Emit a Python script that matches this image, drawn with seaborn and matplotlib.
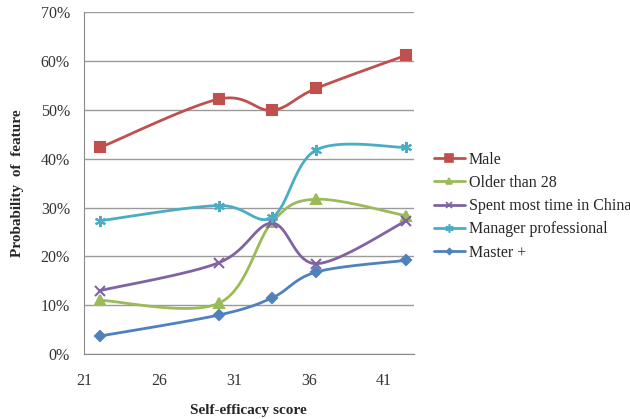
import numpy as np
import pandas as pd
import seaborn as sns
import matplotlib.pyplot as plt
from matplotlib.ticker import PercentFormatter

sns.set_style("white")
plt.rcParams["font.family"] = ["Liberation Serif", "DejaVu Serif"]

# data
scores = [22.1, 30.0, 33.55, 36.5, 42.5]
male = [42.3, 52.2, 49.9, 54.4, 61.2]
older_28 = [11.0, 10.4, 27.0, 31.7, 28.3]
china = [13.0, 18.7, 26.8, 18.5, 27.3]
manager = [27.3, 30.4, 28.0, 41.8, 42.3]
master = [3.7, 8.0, 11.5, 16.8, 19.2]

series = ["Male", "Older than 28", "Spent most time in China",
          "Manager professional", "Master +"]
values = [male, older_28, china, manager, master]
colors = ["#C0504D", "#9BBB59", "#8064A2", "#4BACC6", "#4F81BD"]
markers = ["s", "^", "x", (6, 2, 0), "D"]
msizes = [7.5, 7, 7, 8, 5]


def smooth(x, y, n=30):
    # excel style smoothed line: bezier segments through the points
    p = np.column_stack([x, y]).astype(float)
    pts = np.vstack([p[0], p, p[-1]])
    out = []
    t = np.linspace(0, 1, n)[:, None]
    for i in range(1, len(pts) - 2):
        p0, p3 = pts[i], pts[i + 1]
        p1 = p0 + (pts[i + 1] - pts[i - 1]) / 6
        p2 = p3 - (pts[i + 2] - pts[i]) / 6
        seg = ((1 - t) ** 3) * p0 + 3 * ((1 - t) ** 2) * t * p1 + 3 * (1 - t) * t ** 2 * p2 + t ** 3 * p3
        out.append(seg)
    c = np.vstack(out)
    return c[:, 0], c[:, 1]


fig = plt.figure(figsize=(6.3, 4.19), dpi=100)
ax = fig.add_axes([0.133, 0.155, 0.524, 0.816])

for name, vals, col, mk, ms in zip(series, values, colors, markers, msizes):
    sx, sy = smooth(scores, vals)
    curve = pd.DataFrame({"x": sx, "y": sy})
    sns.lineplot(data=curve, x="x", y="y", ax=ax, color=col, lw=2, sort=False,
                 estimator=None)
    ax.plot(scores, vals, linestyle="none", marker=mk, markersize=ms, color=col,
            mec=col, mew=1.5)
    ax.plot([], [], color=col, lw=2, marker=mk, markersize=ms - 2, mew=1.2,
            label=name)

ax.set_xlim(21, 43)
ax.set_ylim(0, 70)
ax.set_xticks([21, 26, 31, 36, 41])
ax.set_yticks(range(0, 71, 10))
ax.yaxis.set_major_formatter(PercentFormatter(decimals=0))
ax.yaxis.grid(True, color="#9a9a9a", lw=1)
ax.set_axisbelow(True)
for s in ["top", "right"]:
    ax.spines[s].set_visible(False)
for s in ["left", "bottom"]:
    ax.spines[s].set_color("#8a8a8a")
ax.tick_params(axis="both", labelsize=11.5, colors="#8a8a8a", labelcolor="#333333",
               direction="out", length=4, pad=6)
ax.tick_params(axis="x", pad=10)

ax.set_xlabel("Self-efficacy score", fontsize=11, fontweight="bold")
ax.xaxis.set_label_coords(0.5, -0.145)
ax.set_ylabel("Probability  of  feature", fontsize=11, fontweight="bold", labelpad=12)

ax.legend(loc="upper left", bbox_to_anchor=(1.04, 0.61), frameon=False,
          fontsize=11.5, handlelength=2.0, handletextpad=0.2, labelspacing=0.45,
          borderaxespad=0)

fig.savefig("out.png", dpi=100)
